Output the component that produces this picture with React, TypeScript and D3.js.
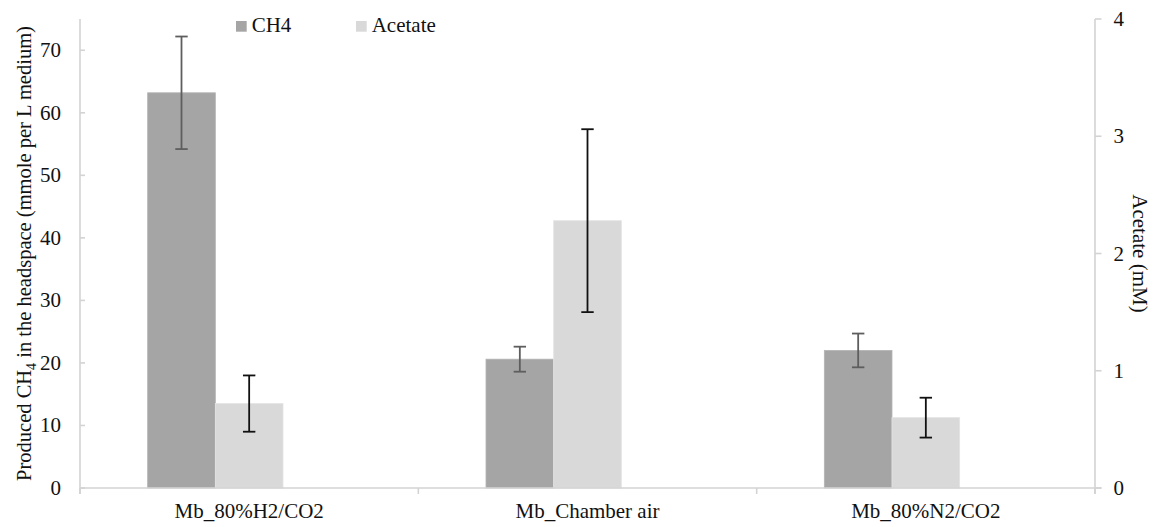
import React from 'react';
import * as d3 from 'd3';

const categories = ['Mb_80%H2/CO2', 'Mb_Chamber air', 'Mb_80%N2/CO2'];
const seriesNames = ['CH4', 'Acetate'];
const ch4Values = [63.2, 20.6, 22.0];
const ch4Errors = [9.0, 2.0, 2.7];
const acetateValues = [0.72, 2.28, 0.6];
const acetateErrors = [0.24, 0.78, 0.17];
const leftTicks = [0, 10, 20, 30, 40, 50, 60, 70];
const rightTicks = [0, 1, 2, 3, 4];

const W = 1157;
const H = 527;
const L = 80;
const R = 1095;
const T = 19;
const B = 488;
const FONT = "'Liberation Serif', 'Times New Roman', serif";
const FS = 21;
const AXIS = '#d3d3d3';
const C_CH4 = '#a5a5a5';
const C_AC = '#d9d9d9';
const txt = { fontFamily: FONT };

export default function App() {
  const x = d3.scaleBand<string>().domain(categories).range([L, R]).paddingInner(0).paddingOuter(0);
  const bw = x.bandwidth();
  const slot = d3.scaleBand<string>().domain(['CH4', 'Acetate', 'blank']).range([bw * 0.2, bw * 0.8]);
  const yL = d3.scaleLinear().domain([0, 75]).range([B, T]);
  const yR = d3.scaleLinear().domain([0, 4]).range([B, T]);
  const cap = 6.2;

  const bounds = categories.map((c) => x(c) as number).concat([R]);

  return (
    <svg width={W} height={H} style={{ position: 'absolute', left: 0, top: 0, background: '#fff' }}>
      <rect x={0} y={0} width={W} height={H} fill="#fff" />
      {categories.map((c, i) => {
        const x0 = x(c) as number;
        const xc = x0 + (slot('CH4') as number);
        const xa = x0 + (slot('Acetate') as number);
        const sw = slot.bandwidth();
        return (
          <g key={c}>
            <rect x={xc} y={yL(ch4Values[i])} width={sw} height={B - yL(ch4Values[i])} fill={C_CH4} stroke="#b3b3b3" strokeWidth={0.8} />
            <rect x={xa} y={yR(acetateValues[i])} width={sw} height={B - yR(acetateValues[i])} fill={C_AC} stroke="#e4e4e4" strokeWidth={0.8} />
          </g>
        );
      })}
      <line x1={L} x2={L} y1={T} y2={B + 6} stroke={AXIS} strokeWidth={1.6} />
      <line x1={R} x2={R} y1={T} y2={B + 6} stroke={AXIS} strokeWidth={1.6} />
      <line x1={L} x2={R + 6.5} y1={B} y2={B} stroke={AXIS} strokeWidth={1.6} />
      {bounds.map((bx, i) => (
        <line key={'bt' + i} x1={bx} x2={bx} y1={B} y2={B + 6} stroke={AXIS} strokeWidth={1.6} />
      ))}
      {leftTicks.map((t) => (
        <g key={'lt' + t}>
          <line x1={L} x2={L + 5} y1={yL(t)} y2={yL(t)} stroke={AXIS} strokeWidth={1.6} />
          <text x={61} y={yL(t) + 7} textAnchor="end" fontSize={FS} fill="#111" style={txt}>{t}</text>
        </g>
      ))}
      {rightTicks.map((t) => (
        <g key={'rt' + t}>
          <line x1={R} x2={R + 6.5} y1={yR(t)} y2={yR(t)} stroke={AXIS} strokeWidth={1.6} />
          <text x={1113.5} y={yR(t) + 7} textAnchor="start" fontSize={FS} fill="#111" style={txt}>{t}</text>
        </g>
      ))}
      {categories.map((c, i) => {
        const x0 = x(c) as number;
        const sw = slot.bandwidth();
        const xc = x0 + (slot('CH4') as number) + sw / 2;
        const xa = x0 + (slot('Acetate') as number) + sw / 2;
        const c1 = yL(ch4Values[i] + ch4Errors[i]);
        const c2 = yL(ch4Values[i] - ch4Errors[i]);
        const a1 = yR(acetateValues[i] + acetateErrors[i]);
        const a2 = yR(acetateValues[i] - acetateErrors[i]);
        return (
          <g key={'e' + c}>
            <g stroke="#5e5e5e" strokeWidth={1.8}>
              <line x1={xc} x2={xc} y1={c1} y2={c2} />
              <line x1={xc - cap} x2={xc + cap} y1={c1} y2={c1} />
              <line x1={xc - cap} x2={xc + cap} y1={c2} y2={c2} />
            </g>
            <g stroke="#111" strokeWidth={1.8}>
              <line x1={xa} x2={xa} y1={a1} y2={a2} />
              <line x1={xa - cap} x2={xa + cap} y1={a1} y2={a1} />
              <line x1={xa - cap} x2={xa + cap} y1={a2} y2={a2} />
            </g>
          </g>
        );
      })}
      {categories.map((c) => (
        <text key={'cl' + c} x={(x(c) as number) + bw / 2} y={518} textAnchor="middle" fontSize={FS} fill="#111" style={txt}>{c}</text>
      ))}
      <text transform={`translate(31, ${(T + B) / 2}) rotate(-90)`} textAnchor="middle" fontSize={20.5} fill="#111" style={txt}>
        <tspan>Produced CH</tspan>
        <tspan fontSize={14} dy={5}>4</tspan>
        <tspan dy={-5}> in the headspace (mmole per L medium)</tspan>
      </text>
      <text transform={`translate(1133, ${(T + B) / 2}) rotate(90)`} textAnchor="middle" fontSize={FS} fill="#111" style={txt}>Acetate (mM)</text>
      {seriesNames.map((s, i) => {
        const lx = [236, 356][i];
        return (
          <g key={'lg' + s}>
            <rect x={lx} y={21} width={10.7} height={10.7} fill={i === 0 ? C_CH4 : C_AC} />
            <text x={lx + 15.7} y={32.3} fontSize={FS} fill="#111" style={txt}>{s}</text>
          </g>
        );
      })}
    </svg>
  );
}
